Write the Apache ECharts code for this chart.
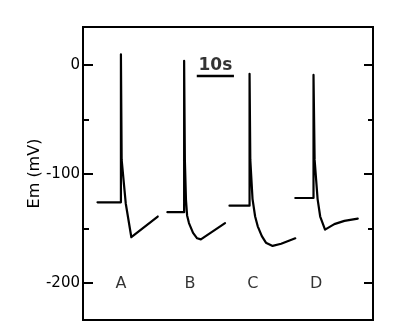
<!DOCTYPE html>
<html>
<head>
<meta charset="utf-8">
<script src="https://cdn.jsdelivr.net/npm/echarts@6/dist/echarts.min.js"></script>
<style>
  html, body { margin: 0; padding: 0; background: #fff; }
  #chart { width: 402px; height: 332px; }
</style>
</head>
<body>
<div id="chart"></div>
<script>
// ---- data (time in s, membrane potential in mV) ----
const tA = [3.9, 10.2, 10.2, 10.4, 11.5, 13.0, 13.5, 20.1];
const vA = [-126, -126, 10, -87, -127, -158, -157, -139];

const tB = [22.7, 27.2, 27.2, 27.4, 27.7, 28.0, 28.5, 29.6, 30.7, 31.7, 38.2];
const vB = [-135, -135, 4, -87, -124, -138, -145, -154, -159, -160, -145];

const tC = [39.4, 44.8, 44.8, 45.0, 45.6, 46.3, 47.0, 48.1, 49.2, 51.0, 53.3, 57.1];
const vC = [-129, -129, -8, -87, -123, -139, -148, -157, -163, -166, -164, -159];

const tD = [57.1, 62.0, 62.0, 62.3, 63.1, 63.8, 65.1, 67.6, 70.3, 73.9];
const vD = [-122, -122, -9, -87, -123, -139, -151, -146, -143, -141];

const traceNames = ['A', 'B', 'C', 'D'];
const traceLabelT = [10.2, 28.8, 45.7, 62.7];
const traceLabelV = -200.6;

const scaleBarT = [30.6, 40.6];
const scaleBarV = -10.1;
const scaleBarText = '10s';

const yMajorTicks = [0, -100, -200];
const yMinorTicks = [-50, -150];
const yMin = -234, yMax = 35;
const xMin = 0, xMax = 78;

// ---- build ----
function pairs(t, v) { return t.map((x, i) => [x, v[i]]); }
const traces = [[tA, vA], [tB, vB], [tC, vC], [tD, vD]];

const FONT = 'DejaVu Sans';
const black = '#000';

const chart = echarts.init(document.getElementById('chart'), null, { renderer: 'canvas' });

const baseX = {
  type: 'value', min: xMin, max: xMax,
  axisLine: { show: true, onZero: false, lineStyle: { color: black, width: 2 } },
  axisTick: { show: false }, axisLabel: { show: false }, splitLine: { show: false }
};
function yAx(pos, ticks, len, labels) {
  return {
    type: 'value', min: yMin, max: yMax, position: pos,
    axisLine: { show: true, onZero: false, lineStyle: { color: black, width: 2 } },
    axisTick: { show: true, inside: true, length: len, customValues: ticks, lineStyle: { color: black, width: 2 } },
    axisLabel: labels ? {
      show: true, customValues: ticks, margin: 3, color: black,
      fontFamily: FONT, fontSize: 15
    } : { show: false },
    splitLine: { show: false }
  };
}

const yLeft = yAx('left', yMajorTicks, 10, true);
yLeft.name = 'Em (mV)';
yLeft.nameLocation = 'middle';
yLeft.nameGap = 40;
yLeft.nameMoveOverlap = false;
yLeft.nameTextStyle = { color: black, fontFamily: FONT, fontSize: 16 };

const series = traces.map(([t, v]) => ({
  type: 'line', xAxisIndex: 0, yAxisIndex: 0,
  data: pairs(t, v), symbol: 'none', smooth: false,
  lineStyle: { color: black, width: 2.2, join: 'round', cap: 'round' },
  silent: true, animation: false
}));

series.push({
  type: 'line', xAxisIndex: 0, yAxisIndex: 0,
  data: scaleBarT.map(x => [x, scaleBarV]), symbol: 'none',
  lineStyle: { color: black, width: 2.5 }, silent: true, animation: false
});
series.push({
  type: 'scatter', xAxisIndex: 0, yAxisIndex: 0, symbolSize: 0,
  data: [{ value: [(scaleBarT[0] + scaleBarT[1]) / 2, scaleBarV], name: scaleBarText }],
  label: { show: true, position: 'top', distance: 2, formatter: '{b}', color: black,
           textBorderWidth: 0, fontFamily: FONT, fontSize: 17, fontWeight: 'bold' },
  silent: true, animation: false
});
series.push({
  type: 'scatter', xAxisIndex: 0, yAxisIndex: 0, symbolSize: 0,
  data: traceNames.map((n, i) => ({ value: [traceLabelT[i], traceLabelV], name: n })),
  label: { show: true, position: 'inside', formatter: '{b}', color: black,
           textBorderWidth: 0, fontFamily: FONT, fontSize: 16 },
  silent: true, animation: false
});

chart.setOption({
  animation: false,
  backgroundColor: '#fff',
  grid: { left: 83, right: 29, top: 27, bottom: 12, containLabel: false, outerBoundsMode: 'none' },
  xAxis: [
    Object.assign({}, baseX, { position: 'bottom' }),
    Object.assign({}, baseX, { position: 'top' })
  ],
  yAxis: [
    yLeft,
    yAx('left', yMinorTicks, 6, false),
    yAx('right', yMajorTicks, 9, false),
    yAx('right', yMinorTicks, 5, false)
  ],
  series: series
});
</script>
</body>
</html>
